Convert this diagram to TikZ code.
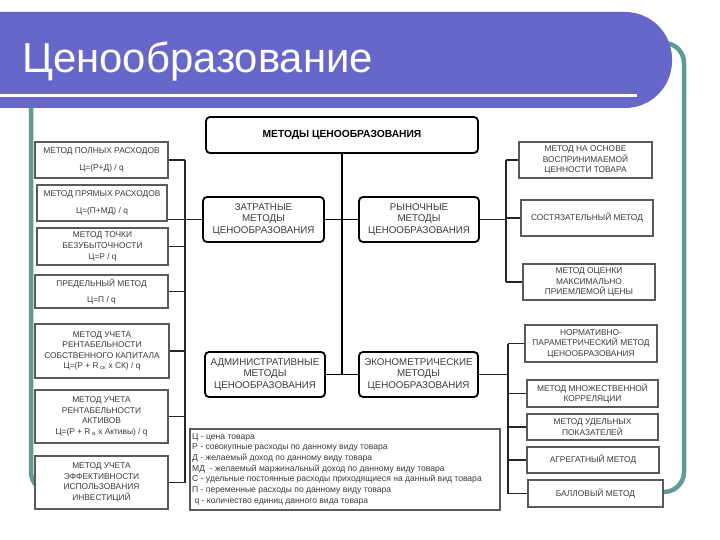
\documentclass[tikz,border=0pt]{standalone}
\usepackage{fontspec}
\setmainfont{Liberation Sans}
\definecolor{ban}{HTML}{6767C9}
\definecolor{frameteal}{HTML}{5E9A96}
\definecolor{txt}{HTML}{3A3A3A}
\definecolor{bord}{HTML}{5A5A5A}
\begin{document}
\begin{tikzpicture}[x=1bp,y=-1bp,
  cbox/.style={draw=black, line width=1.8bp, rounded corners=4bp, fill=white, align=center,
    font=\fontsize{9.8}{11.2}\selectfont, text=txt, inner sep=0pt},
  topbox/.style={cbox, font=\bfseries\fontsize{10.3}{11}\selectfont, text=black},
  lbox/.style={draw=bord, line width=1.3bp, fill=white, align=center,
    font=\fontsize{8.4}{10.6}\selectfont, text=txt, inner sep=0pt},
  conn/.style={draw=black!85, line width=1.1bp},
  trunk/.style={draw=black, line width=1.8bp}]
\clip (0,0) rectangle (720,540);
\useasboundingbox (0,0) rectangle (720,540);
\fill[white] (0,0) rectangle (720,540);
% frame
\draw[frameteal, line width=4.5bp, rounded corners=20bp] (31,43) rectangle (684,492);
\fill[white] (35.2,110) rectangle (663,540);
% banner
\fill[ban, rounded corners=47bp] (-60,12) rectangle (672,108);
\draw[white, line width=3bp] (0,96) -- (637,96);
\node[anchor=base west, white, font=\fontsize{42}{42}\selectfont, inner sep=0pt] (title) at (22,73) {Ценообразование};

% central boxes
\node[topbox, minimum width=272bp, minimum height=36bp] (T) at (342,135) {МЕТОДЫ ЦЕНООБРАЗОВАНИЯ};
\node[cbox, minimum width=121bp, minimum height=45bp] (Z) at (263.5,219.5) {ЗАТРАТНЫЕ\\МЕТОДЫ\\ЦЕНООБРАЗОВАНИЯ};
\node[cbox, minimum width=120bp, minimum height=45bp] (R) at (419,219.5) {РЫНОЧНЫЕ\\МЕТОДЫ\\ЦЕНООБРАЗОВАНИЯ};
\node[cbox, minimum width=120bp, minimum height=45bp] (A) at (265,374.5) {АДМИНИСТРАТИВНЫЕ\\МЕТОДЫ\\ЦЕНООБРАЗОВАНИЯ};
\node[cbox, minimum width=119bp, minimum height=45bp] (E) at (418.5,374.5) {ЭКОНОМЕТРИЧЕСКИЕ\\МЕТОДЫ\\ЦЕНООБРАЗОВАНИЯ};

% left boxes
\node[lbox, minimum width=133bp, minimum height=36bp] (L1) at (101.5,160) {МЕТОД ПОЛНЫХ РАСХОДОВ\\[6bp]Ц=(Р+Д) / q};
\node[lbox, minimum width=130bp, minimum height=36bp] (L2) at (102,203) {МЕТОД ПРЯМЫХ РАСХОДОВ\\[6bp]Ц=(П+МД) / q};
\node[lbox, minimum width=131bp, minimum height=37bp] (L3) at (102.5,246.5) {МЕТОД ТОЧКИ\\БЕЗУБЫТОЧНОСТИ\\Ц=Р / q};
\node[lbox, minimum width=133bp, minimum height=33bp] (L4) at (101.5,291.5) {ПРЕДЕЛЬНЫЙ МЕТОД\\[6bp]Ц=П / q};
\node[lbox, minimum width=134bp, minimum height=54bp] (L5) at (102,351) {МЕТОД УЧЕТА\\РЕНТАБЕЛЬНОСТИ\\СОБСТВЕННОГО КАПИТАЛА\\Ц=(Р + R\textsubscript{ ск} x СК) / q};
\node[lbox, minimum width=133bp, minimum height=53bp] (L6) at (101.5,416.5) {МЕТОД УЧЕТА\\РЕНТАБЕЛЬНОСТИ\\АКТИВОВ\\Ц=(Р + R\textsubscript{ а} x Активы) / q};
\node[lbox, minimum width=133bp, minimum height=53bp] (L7) at (101.5,482.5) {МЕТОД УЧЕТА\\ЭФФЕКТИВНОСТИ\\ИСПОЛЬЗОВАНИЯ\\ИНВЕСТИЦИЙ};

% right boxes
\node[lbox, minimum width=133bp, minimum height=36bp] (R1) at (585.5,160) {МЕТОД НА ОСНОВЕ\\ВОСПРИНИМАЕМОЙ\\ЦЕННОСТИ ТОВАРА};
\node[lbox, minimum width=132bp, minimum height=36bp] (R2) at (587,218) {СОСТЯЗАТЕЛЬНЫЙ МЕТОД};
\node[lbox, minimum width=132bp, minimum height=36bp] (R3) at (589,282) {МЕТОД ОЦЕНКИ\\МАКСИМАЛЬНО\\ПРИЕМЛЕМОЙ ЦЕНЫ};
\node[lbox, minimum width=132bp, minimum height=37bp] (R4) at (591,343.5) {НОРМАТИВНО-\\ПАРАМЕТРИЧЕСКИЙ МЕТОД\\ЦЕНООБРАЗОВАНИЯ};
\node[lbox, minimum width=131bp, minimum height=27bp] (R5) at (592.5,393.5) {МЕТОД МНОЖЕСТВЕННОЙ\\КОРРЕЛЯЦИИ};
\node[lbox, minimum width=131bp, minimum height=26bp] (R6) at (592.5,427) {МЕТОД УДЕЛЬНЫХ\\ПОКАЗАТЕЛЕЙ};
\node[lbox, minimum width=132bp, minimum height=26bp] (R7) at (593,460) {АГРЕГАТНЫЙ МЕТОД};
\node[lbox, minimum width=135bp, minimum height=27bp] (R8) at (595.5,493.5) {БАЛЛОВЫЙ МЕТОД};

% legend
\node[draw=bord, line width=1.3bp, fill=white, minimum width=310bp, minimum height=81bp, inner sep=0pt] (leg) at (345,469.5) {};
\node[anchor=north west, align=left, font=\fontsize{8.6}{10.7}\selectfont, text=txt, inner sep=0pt] (legt) at (192,433) {Ц - цена товара\\
Р - совокупные расходы по данному виду товара\\
Д - желаемый доход по данному виду товара\\
МД \ - желаемый маржинальный доход по данному виду товара\\
С - удельные постоянные расходы приходящиеся на данный вид товара\\
П - переменные расходы по данному виду товара\\
\ q - количество единиц данного вида товара};

% trunk connectors
\draw[trunk] (T.south) -- (T.south |- A.east);
\draw[trunk] (Z.east) -- (R.west);
\draw[trunk] (A.east) -- (E.west);

% left bus
\coordinate (lbt) at (185,160);
\coordinate (lbb) at (185,482.5);
\draw[conn] (lbt) -- (lbb);
\draw[conn] (L1.east) -- (lbt);
\draw[conn] (Z.west) -- (Z.west -| L2.east);
\draw[conn] (L3.east) -- (L3.east -| lbt);
\draw[conn] (L4.east) -- (L4.east -| lbt);
\draw[conn] (L5.east) -- (L5.east -| lbt);
\draw[conn] (L6.east) -- (L6.east -| lbt);
\draw[conn] (L7.east) -- (lbb);

% right bus 1
\coordinate (rat) at (506,160);
\coordinate (rab) at (506,282);
\draw[conn] (rat) -- (rab);
\draw[conn] (R.east) -- (R.east -| rat);
\draw[conn] (R1.west) -- (rat);
\draw[conn] (R2.west) -- (R2.west -| rat);
\draw[conn] (R3.west) -- (rab);

% right bus 2
\coordinate (rbt) at (508,343.5);
\coordinate (rbb) at (508,493.5);
\draw[conn] (rbt) -- (rbb);
\draw[conn] (E.east) -- (E.east -| rbt);
\draw[conn] (R4.west) -- (rbt);
\draw[conn] (R5.west) -- (R5.west -| rbt);
\draw[conn] (R6.west) -- (R6.west -| rbt);
\draw[conn] (R7.west) -- (R7.west -| rbt);
\draw[conn] (R8.west) -- (rbb);
\end{tikzpicture}
\end{document}
